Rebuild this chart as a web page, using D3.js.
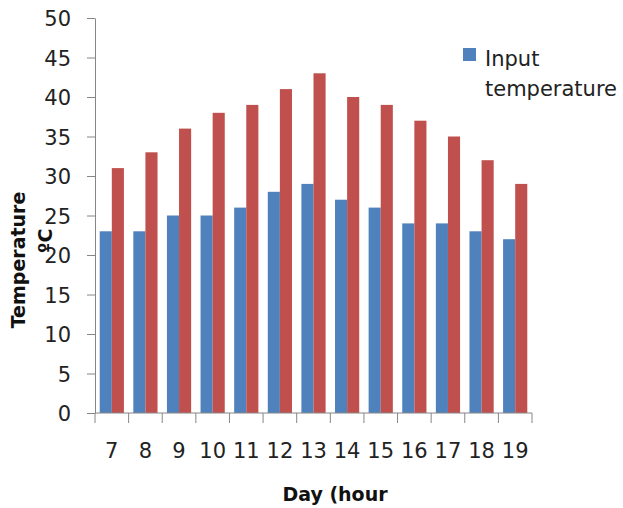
<!DOCTYPE html>
<html lang="en">
<head>
<meta charset="UTF-8">
<title>Temperature by hour</title>
<script src="https://cdn.jsdelivr.net/npm/d3@7"></script>
<style>
    body { margin: 0; background: #fff; }
    svg { font-family: "DejaVu Sans", sans-serif; }
    .axis path, .axis line { stroke: #868686; }
    .axis text { font-size: 21px; fill: #222; font-family: "DejaVu Sans", sans-serif; }
</style>
</head>
<body>
<div id="chart"></div>
<script>
// hours of the day
let hours = ['7', '8', '9', '10', '11', '12', '13', '14', '15', '16', '17', '18', '19']
let inputTemp = [23, 23, 25, 25, 26, 28, 29, 27, 26, 24, 24, 23, 22]
let otherTemp = [31, 33, 36, 38, 39, 41, 43, 40, 39, 37, 35, 32, 29]
let yTicks = [0, 5, 10, 15, 20, 25, 30, 35, 40, 45, 50]

let width = 623, height = 508
let plotLeft = 95, plotRight = 532, plotTop = 18, plotBottom = 413

let svg = d3.select('#chart').append('svg')
    .attr('width', width)
    .attr('height', height)

let x = d3.scaleBand().domain(hours).range([plotLeft, plotRight])
    .paddingInner(0.28).paddingOuter(0.14)
let xBand = d3.scaleBand().domain(hours).range([plotLeft, plotRight])
let y = d3.scaleLinear().domain([0, 50]).range([plotBottom, plotTop])

let barW = x.bandwidth() / 2

// blue bars
svg.append('g').selectAll('rect')
    .data(inputTemp)
    .enter().append('rect')
    .attr('x', (d, i) => x(hours[i]))
    .attr('y', d => y(d))
    .attr('width', barW)
    .attr('height', d => y(0) - y(d))
    .attr('fill', '#4f81bd')

// red bars
svg.append('g').selectAll('rect')
    .data(otherTemp)
    .enter().append('rect')
    .attr('x', (d, i) => x(hours[i]) + barW)
    .attr('y', d => y(d))
    .attr('width', barW)
    .attr('height', d => y(0) - y(d))
    .attr('fill', '#c0504d')

// y axis
let yAxis = svg.append('g').attr('class', 'axis')
    .attr('transform', `translate(${plotLeft},0)`)
    .call(d3.axisLeft(y).tickValues(yTicks).tickSize(8).tickPadding(16).tickSizeOuter(0))
yAxis.selectAll('text').attr('dy', '0.36em')

// x axis: ticks on band boundaries, labels at band centres
let xAxis = svg.append('g').attr('class', 'axis')
svg.append('line')
    .attr('x1', plotLeft).attr('x2', plotRight)
    .attr('y1', plotBottom).attr('y2', plotBottom)
    .attr('stroke', '#868686')
let bounds = hours.map(h => xBand(h)).concat([plotRight])
xAxis.selectAll('line').data(bounds).enter().append('line')
    .attr('x1', d => d).attr('x2', d => d)
    .attr('y1', plotBottom).attr('y2', plotBottom + 10)
xAxis.selectAll('text').data(hours).enter().append('text')
    .attr('x', d => xBand(d) + xBand.bandwidth() / 2)
    .attr('y', 458)
    .attr('text-anchor', 'middle')
    .text(d => d)

// axis titles
svg.append('text')
    .attr('x', 335).attr('y', 501)
    .attr('text-anchor', 'middle')
    .attr('font-size', 19).attr('font-weight', 'bold')
    .attr('fill', '#111')
    .text('Day (hour')

svg.append('text')
    .attr('transform', 'translate(25,260) rotate(-90)')
    .attr('text-anchor', 'middle')
    .attr('font-size', 19).attr('font-weight', 'bold')
    .attr('fill', '#111')
    .text('Temperature')
svg.append('text')
    .attr('transform', 'translate(52,241) rotate(-90)')
    .attr('text-anchor', 'middle')
    .attr('font-size', 19).attr('font-weight', 'bold')
    .attr('fill', '#111')
    .text('ºC')

// legend
svg.append('rect')
    .attr('x', 463).attr('y', 48)
    .attr('width', 13).attr('height', 13)
    .attr('fill', '#4f81bd')
svg.append('text')
    .attr('x', 485).attr('y', 66)
    .attr('font-size', 21).attr('fill', '#222')
    .text('Input')
svg.append('text')
    .attr('x', 485).attr('y', 96)
    .attr('font-size', 21).attr('fill', '#222')
    .text('temperature')
</script>
</body>
</html>
